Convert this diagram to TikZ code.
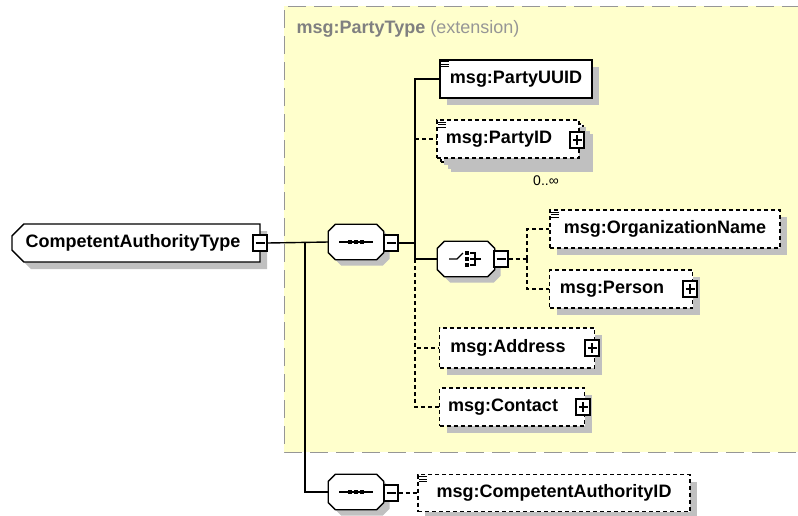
\documentclass[tikz,border=0pt]{standalone}
\usepackage{fontspec}
\setmainfont{Liberation Sans}
\usetikzlibrary{shapes.misc,shadows}

\definecolor{extfill}{RGB}{255,255,204}
\definecolor{extline}{RGB}{150,150,150}
\definecolor{exttext}{RGB}{128,128,128}
\definecolor{shadowgray}{RGB}{192,192,192}

\tikzset{
  diag/.style={x=1pt,y=-1pt,line width=1.4pt},
  boxshadow/.style={drop shadow={shadow xshift=7pt,shadow yshift=-7pt,fill=shadowgray,opacity=1}},
  elem/.style={draw,fill=white,line width=1.4pt,boxshadow,font=\bfseries\fontsize{18}{21}\selectfont,minimum height=38pt,inner sep=0pt},
  optelem/.style={elem,line width=1.1pt,dash pattern=on 4pt off 3pt},
  ctype/.style={elem,chamfered rectangle,chamfered rectangle corners={north west,south west},chamfered rectangle xsep=9pt},
  compositor/.style={minimum width=54pt,minimum height=34pt,inner sep=0pt},
  minusbox/.style={draw,fill=white,line width=1.1pt,minimum width=14pt,minimum height=16pt,inner sep=0pt,
    path picture={\draw[line width=1.1pt] ([xshift=2.5pt]path picture bounding box.west) -- ([xshift=-2.5pt]path picture bounding box.east);}},
  plusbox/.style={draw,fill=white,line width=1.1pt,minimum width=14pt,minimum height=16pt,inner sep=0pt,
    path picture={\draw[line width=1.1pt] ([xshift=2.5pt]path picture bounding box.west) -- ([xshift=-2.5pt]path picture bounding box.east);
                  \draw[line width=1.1pt] ([yshift=-3pt]path picture bounding box.north) -- ([yshift=3pt]path picture bounding box.south);}},
  optline/.style={line width=1.2pt,dash pattern=on 4pt off 3pt},
}

% octagon round a compositor node: #1 node, #2 offset, #3 options
\def\octpath#1#2#3{
  \path[#3] ([xshift=#2pt+7pt,yshift=-#2pt]#1.north west) -- ([xshift=#2pt-7pt,yshift=-#2pt]#1.north east)
    -- ([xshift=#2pt,yshift=-#2pt-7pt]#1.north east) -- ([xshift=#2pt,yshift=-#2pt+7pt]#1.south east)
    -- ([xshift=#2pt-7pt,yshift=-#2pt]#1.south east) -- ([xshift=#2pt+7pt,yshift=-#2pt]#1.south west)
    -- ([xshift=#2pt,yshift=-#2pt+7pt]#1.south west) -- ([xshift=#2pt,yshift=-#2pt-7pt]#1.north west) -- cycle;
}
\def\compbox#1{
  \octpath{#1}{6}{fill=shadowgray}
  \octpath{#1}{0}{fill=white,draw,line width=1.3pt}
}
\def\seqicon#1{
  \draw[line width=1.3pt] ([xshift=-17pt]#1.center) -- ([xshift=17pt]#1.center);
  \foreach \d in {-6,0,6}
    \fill ([xshift=\d pt-2pt,yshift=-2pt]#1.center) rectangle ++(4pt,4pt);
}
\def\choiceicon#1{
  \draw[line width=1.3pt] ([xshift=-17pt]#1.center) -- ([xshift=-9pt]#1.center) -- ([xshift=-3pt,yshift=6pt]#1.center);
  \foreach \d in {-6,0,6}
    \fill ([xshift=-1pt,yshift=\d pt-1.5pt]#1.center) rectangle ++(3.5pt,3.5pt);
  \draw[line width=1.1pt] ([xshift=4pt,yshift=6pt]#1.center) -- ([xshift=9pt,yshift=6pt]#1.center) -- ([xshift=9pt,yshift=-6pt]#1.center) -- ([xshift=4pt,yshift=-6pt]#1.center);
  \draw[line width=1.1pt] ([xshift=4pt]#1.center) -- ([xshift=15pt]#1.center);
}
\def\elicon#1{
  \foreach \d in {2.5,5,7.5}
    \draw[line width=0.7pt] ([xshift=2pt,yshift=-\d pt]#1.north west) -- ++(8pt,0pt);
}

\begin{document}
\begin{tikzpicture}[diag]
  \useasboundingbox (0,0) rectangle (798,515);

  \def\joint{305}
  \def\trunk{415}
  \def\cjoint{527}

  % extension area
  \fill[extfill] (284,6) rectangle (800,452);
  \draw[extline,line width=1pt,dash pattern=on 18pt off 8pt] (800,6) -- (284,6) -- (284,452) -- (800,452);
  \node[anchor=west,inner sep=0pt,font=\fontsize{18}{21}\selectfont] (exttitle) at (296,29)
    {\textcolor{exttext}{\bfseries msg:PartyType} \textcolor{extline}{(extension)}};

  % complex type
  \node[ctype,minimum width=248pt] (cat) at (136,243) {CompetentAuthorityType\hspace*{6pt}};
  \node[minusbox] (catm) at (260,243) {};

  % sequence in extension
  \node[compositor] (seqa) at (356,242) {};
  \compbox{seqa}
  \node[minusbox] (seqam) at (391,243) {};
  \seqicon{seqa}

  \node[elem,minimum width=152pt] (uuid) at (516,79) {msg:PartyUUID};
  \elicon{uuid}

  \node[optelem,minimum width=142pt,drop shadow={shadow xshift=10pt,shadow yshift=-10pt,fill=shadowgray,opacity=1}] (partyidbg) at (512,143) {};
  \node[optelem,minimum width=142pt,drop shadow={opacity=0}] (partyid) at (508,139) {msg:PartyID\hspace*{18pt}};
  \node[plusbox] (partyidp) at (577,140) {};
  \elicon{partyid}
  \node[font=\fontsize{14}{16}\selectfont] (occurs) at (546,181) {0..∞};

  \node[compositor,minimum width=56pt] (choice) at (466,259) {};
  \compbox{choice}
  \node[minusbox] (choicem) at (501,259) {};
  \choiceicon{choice}

  \node[optelem,minimum width=230pt] (org) at (665,229) {msg:OrganizationName};
  \elicon{org}
  \node[optelem,minimum width=143pt] (person) at (621,289) {msg:Person\hspace*{18pt}};
  \node[plusbox] (personp) at (690,289) {};

  \node[optelem,minimum width=155pt,minimum height=40pt] (address) at (517,348) {msg:Address\hspace*{18pt}};
  \node[plusbox] (addressp) at (592,348) {};
  \node[optelem,minimum width=145pt] (contact) at (512,407) {msg:Contact\hspace*{18pt}};
  \node[plusbox] (contactp) at (583,407) {};

  % own sequence
  \node[compositor] (seqb) at (356,492) {};
  \compbox{seqb}
  \node[minusbox] (seqbm) at (391,493) {};
  \seqicon{seqb}
  \node[optelem,minimum width=272pt,minimum height=37pt] (cauth) at (554,493) {msg:CompetentAuthorityID};
  \elicon{cauth}

  % connectors
  \coordinate (ja) at (\joint,243);
  \coordinate (tr) at (\trunk,243);
  \coordinate (cj) at (\cjoint,259);
  \draw (catm.east) -- (seqa.west);
  \draw (ja) |- (seqb.west);
  \draw (seqam.east) -- (tr);
  \draw (tr) |- (uuid.west);
  \draw (tr) |- (choice.west);
  \draw[optline] (partyid.west -| tr) -- (partyid.west);
  \draw[optline] (choice.west -| tr) |- (address.west);
  \draw[optline] (choice.west -| tr) |- (contact.west);
  \draw[optline] (choicem.east) -- (cj);
  \draw[optline] (cj) |- (org.west);
  \draw[optline] (cj) |- (person.west);
  \draw[optline] (seqbm.east) -- (cauth.west);
\end{tikzpicture}
\end{document}
